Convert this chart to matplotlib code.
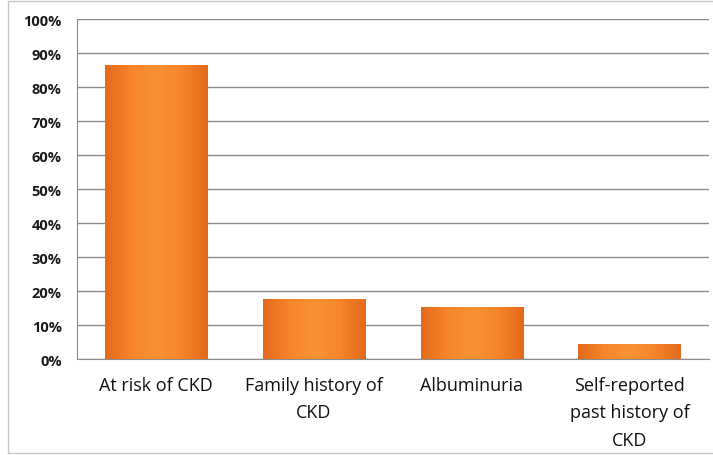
import numpy as np
import matplotlib.pyplot as plt
from matplotlib.patches import Rectangle
from matplotlib.colors import LinearSegmentedColormap

categories = ['At risk of CKD', 'Family history of\nCKD', 'Albuminuria',
              'Self-reported\npast history of\nCKD']
values = [86.5, 17.8, 15.2, 4.3]
yticks = np.arange(0, 101, 10)

plt.rcParams['font.family'] = ['Open Sans', 'DejaVu Sans']

fig = plt.figure(figsize=(7.13, 4.56), dpi=100)
ax = fig.add_axes([0.108, 0.2105, 0.886, 0.7455])

# figure frame
fig.patches.append(Rectangle((8/713, 0.004), 0.99, 0.992, transform=fig.transFigure,
                             fill=False, edgecolor='#c8c8c8', lw=1))

x = np.arange(len(categories))
width = 0.65
cmap = LinearSegmentedColormap.from_list('bar', ['#e36a1c', '#f7852a', '#f99134', '#f7852a', '#e36a1c'])
grad = np.linspace(0, 1, 64).reshape(1, -1)

bars = ax.bar(x, values, width=width, color='#f47c22', zorder=2)
for b in bars:
    x0, w, h = b.get_x(), b.get_width(), b.get_height()
    im = ax.imshow(grad, cmap=cmap, extent=(x0, x0 + w, 0, h), aspect='auto', zorder=3)
    im.set_clip_path(b)

ax.set_xlim(-0.5, len(categories) - 0.5)
ax.set_ylim(0, 100)
ax.set_yticks(yticks)
ax.set_yticklabels([f'{v}%' for v in yticks], fontsize=10.5, fontweight='bold', color='#1a1a1a')
ax.set_xticks(x)
ax.set_xticklabels(categories, fontsize=13, linespacing=1.7, color='#111111')
ax.tick_params(axis='x', length=0, pad=12)
ax.tick_params(axis='y', length=0, pad=11)
ax.yaxis.grid(True, color='#8c8c8c', lw=1)
ax.set_axisbelow(True)
for s in ['top', 'right']:
    ax.spines[s].set_visible(False)
ax.spines['left'].set_color('#8c8c8c')
ax.spines['bottom'].set_color('#8c8c8c')

fig.savefig('out.png', dpi=100)
